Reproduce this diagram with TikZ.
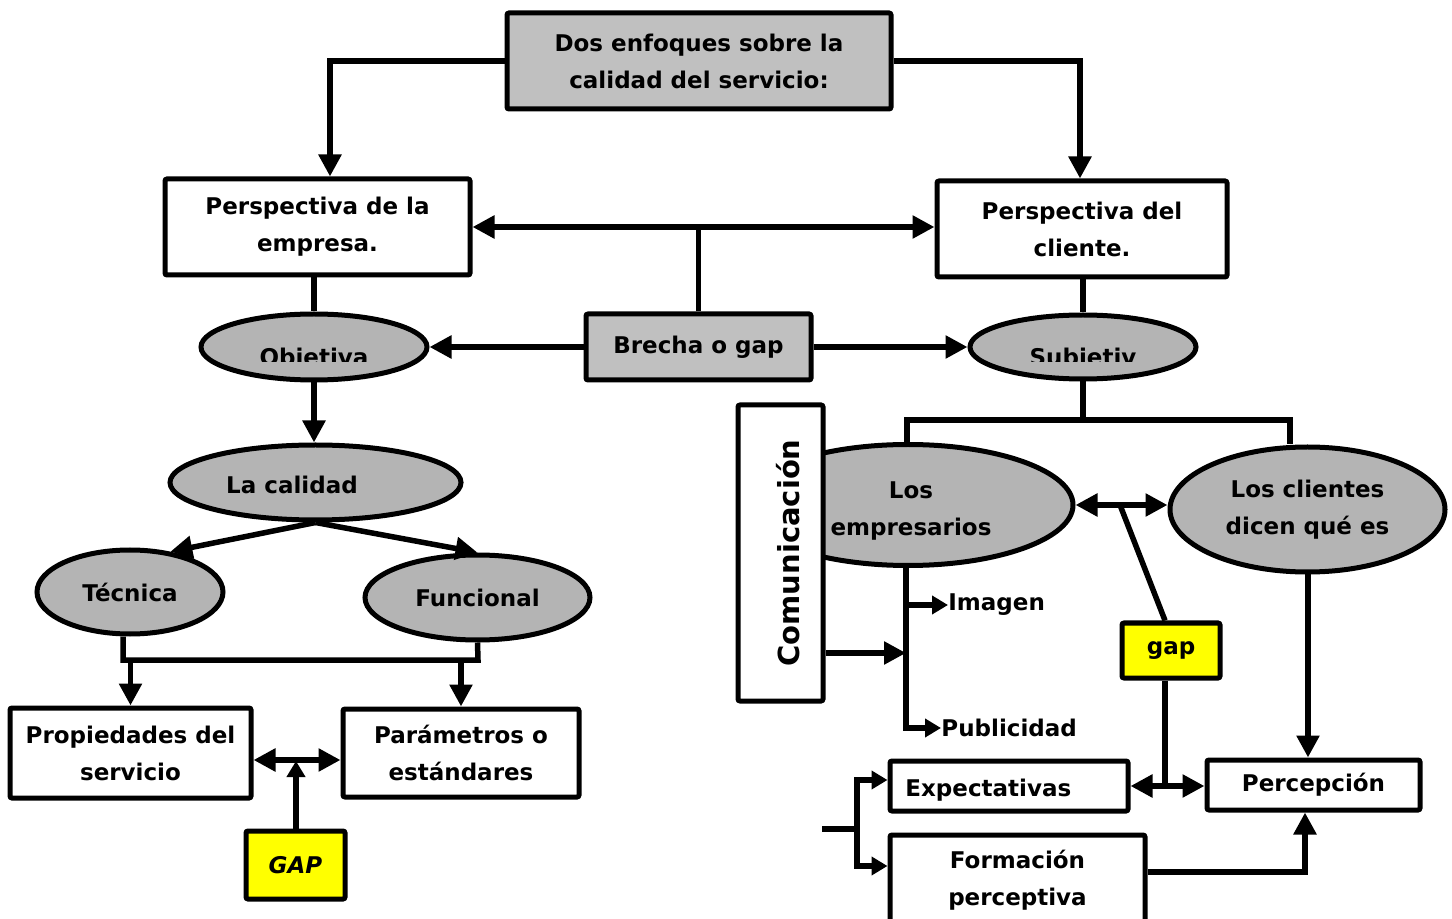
\documentclass[tikz,border=0pt]{standalone}
\usepackage{fontspec}
\setmainfont{DejaVu Sans}
\usetikzlibrary{arrows.meta,shapes.geometric,calc}
\definecolor{boxgray}{RGB}{192,192,192}
\definecolor{ellgray}{RGB}{180,180,180}
\definecolor{gapyellow}{RGB}{255,255,0}
\tikzset{
  lbl/.style={font=\bfseries\fontsize{11.5}{18.5}\selectfont, align=center, inner sep=0pt},
  boxw/.style={draw, line width=2.5pt, fill=white, inner sep=0pt, align=center,
    rounded corners=1pt, font=\bfseries\fontsize{11.5}{18.5}\selectfont},
  boxg/.style={boxw, fill=boxgray},
  boxy/.style={boxw, fill=gapyellow},
  ell/.style={ellipse, draw, line width=2.5pt, fill=ellgray, inner sep=0pt, align=center,
    font=\bfseries\fontsize{11.5}{18.5}\selectfont},
  conn/.style={line width=2.75pt},
  arr/.style={conn, -{Triangle[length=11pt,width=11pt]}},
  sarr/.style={conn, -{Triangle[length=8pt,width=9pt]}},
  dbl/.style={conn, {Triangle[length=11pt,width=11pt]}-{Triangle[length=11pt,width=11pt]}},
}
\begin{document}
\begin{tikzpicture}[x=0.5pt,y=-0.5pt]
\fill[white] (0,0) rectangle (1452,919);
\useasboundingbox (0,0) rectangle (1452,919);

% ---- boxes and ellipses
\node[boxg, minimum width=192pt, minimum height=48pt] (top) at (699,61)
  {Dos enfoques sobre la\\calidad del servicio:};
\node[boxw, minimum width=152.5pt, minimum height=48pt] (pemp) at (317.5,227)
  {Perspectiva de la\\empresa.};
\node[boxw, minimum width=145pt, minimum height=48pt] (pcli) at (1082,229)
  {Perspectiva del\\cliente.};
\node[boxg, minimum width=112.5pt, minimum height=33pt] (brecha) at (698.5,347)
  {Brecha o gap};

\node[ell, minimum width=113pt, minimum height=33pt] (obj) at (314,347) {};
\node[ell, minimum width=113pt, minimum height=32pt] (subj) at (1083,347) {};
\begin{scope}
  \clip (200,320) rectangle (430,362);
  \node[lbl, anchor=base] (objt) at (314,366) {Objetiva};
\end{scope}
\begin{scope}
  \clip (970,320) rectangle (1196,362);
  \node[lbl, anchor=base] (subjt) at (1083,366) {Subjetiv};
\end{scope}

\node[ell, minimum width=145.5pt, minimum height=37.5pt] (cal) at (315.5,482.5) {};
\node[lbl] (calt) at (292,485) {La calidad};
\node[ell, minimum width=93pt, minimum height=42pt] (tec) at (130,592) {Técnica};
\node[ell, minimum width=112.5pt, minimum height=42.5pt] (fun) at (477.5,597.5) {Funcional};

\node[boxw, minimum width=120.5pt, minimum height=45pt] (prop) at (130.5,753)
  {Propiedades del\\servicio};
\node[boxw, minimum width=118pt, minimum height=44pt] (param) at (461,753)
  {Parámetros o\\estándares};
\node[boxy, minimum width=49.5pt, minimum height=34pt,
  font=\bfseries\itshape\fontsize{11.5}{14}\selectfont] (gapL) at (295.5,865) {GAP};

% ---- right side
\node[ell, minimum width=165pt, minimum height=60.5pt] (emp) at (908,505) {};
\node[lbl] (empt) at (911,511) {Los\\empresarios};
\node[boxw, minimum width=42.5pt, minimum height=148pt] (com) at (780.5,553) {};
\node[lbl, rotate=90, font=\bfseries\fontsize{14.5}{16}\selectfont] (comt) at (788,553)
  {Comunicación};
\node[ell, minimum width=137.5pt, minimum height=62.5pt] (cli) at (1307.5,509.5)
  {Los clientes\\dicen qué es};
\node[boxy, minimum width=49pt, minimum height=27.5pt] (gapR) at (1171,650.5) {gap};

\node[lbl, anchor=west] (img) at (948,605) {Imagen};
\node[lbl, anchor=west] (pub) at (941,728) {Publicidad};

\node[boxw, minimum width=106.5pt, minimum height=25pt] (perc) at (1313.5,785) {Percepción};
\node[boxw, minimum width=119pt, minimum height=25pt] (exp) at (1009,786) {};
\node[lbl, anchor=west] (expt) at (905,790) {Expectativas};
\node[boxw, minimum width=127.5pt, minimum height=45pt] (form) at (1017.5,880)
  {Formación\\perceptiva};

% ---- connectors, left side
\draw[arr] (top.west) -| ([xshift=6.25pt]pemp.north);
\draw[arr] (top.east) -| ([xshift=-1pt]pcli.north);
\draw[dbl] (pemp.east) -- (pemp.east -| pcli.west);
\draw[conn] (brecha.north) -- (brecha.north |- pemp.east);
\draw[arr] (brecha.west) -- (obj.east);
\draw[arr] (brecha.east) -- (subj.west);
\draw[conn] (obj.north |- pemp.south) -- (obj.north);
\draw[arr] (obj.south) -- (obj.south |- cal.north);
\draw[arr] (cal.south) -- (tec.45);
\draw[arr] (cal.south) -- (fun.north);
\coordinate (hl) at (123,660);
\coordinate (hr) at (478,660);
\draw[conn] ([xshift=-3.5pt]tec.south) -- (hl) -- (hr) -- (fun.south);
\draw[arr] (hl -| prop.north) -- (prop.north);
\draw[arr] (hl -| param.north) -- (param.north);
\draw[dbl] ([yshift=-3.5pt]prop.east) -- ([yshift=-3.5pt]param.west);
\coordinate (pg) at (296,761);
\draw[sarr] (gapL.north -| pg) -- (pg);

% ---- connectors, right side
\draw[conn] (subj.north |- pcli.south) -- (subj.north);
\coordinate (sj) at (1083,420);
\coordinate (jl) at (907,420);
\coordinate (jr) at (1290,420);
\draw[conn] (subj.south) -- (sj);
\draw[conn] (jl |- emp.north) -- (jl) -- (jr) -- (jr |- cli.north);
\coordinate (cj) at (906,653);
\draw[arr] (com.east |- cj) -- (cj);
\coordinate (ev) at (906,566);
\draw[sarr] (ev) |- (pub.west);
\draw[sarr] (ev |- img.west) -- (img.west);
\draw[dbl] (emp.east) -- (emp.east -| cli.west);
\coordinate (gd) at (1120,505);
\draw[conn] ([xshift=-3pt]gapR.north) -- (gd);
\draw[conn] ([xshift=-3pt]gapR.south) -- ([xshift=-3pt]gapR.south |- exp.east);
\draw[dbl] (exp.east) -- (exp.east -| perc.west);
\draw[arr] ([xshift=0.25pt]cli.south) -- ([xshift=0.25pt]cli.south |- perc.north);
\draw[arr] ([yshift=4pt]form.east) -| ([xshift=-4.25pt]perc.south);
\coordinate (bs) at (822,829);
\coordinate (bk) at (857,829);
\draw[conn] (bs) -- (bk);
\draw[sarr] (bk) |- ([yshift=3pt]exp.west);
\draw[sarr] (bk) |- ([yshift=7pt]form.west);
\end{tikzpicture}
\end{document}
